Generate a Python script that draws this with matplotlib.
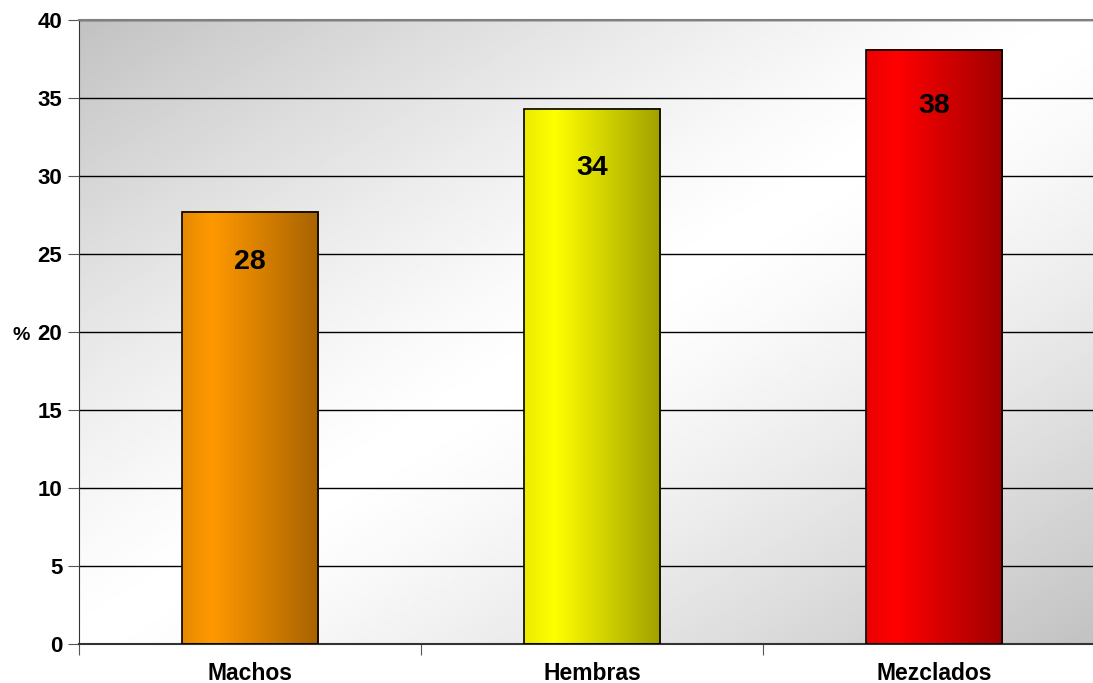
import numpy as np
import matplotlib
matplotlib.use('Agg')
import matplotlib.pyplot as plt
from matplotlib.colors import LinearSegmentedColormap

labels = ['Machos', 'Hembras', 'Mezclados']
values = [27.7, 34.3, 38.1]
value_labels = ['28', '34', '38']
colors = [('#E68A00', '#FF9900', '#A86200'),
          ('#EBEB00', '#FFFF00', '#A0A000'),
          ('#EB0000', '#FF0000', '#A00000')]

plt.rcParams['font.family'] = ['Liberation Sans', 'DejaVu Sans']

fig = plt.figure(figsize=(10.93, 6.83), dpi=100)
ax = fig.add_axes([79 / 1093, 39 / 683, 1 - 79 / 1093, 624 / 683])

# diagonal gray-white-gray background
n = 300
u, v = np.meshgrid(np.linspace(0, 1, n), np.linspace(0, 1, n))
t = (u + v) / 2  # 0 top-left, 1 bottom-right (image origin upper)
g = 0.76 + 0.24 * (1 - np.abs(2 * t - 1) ** 1.3)
ax.imshow(g, cmap='gray', vmin=0, vmax=1, extent=(0, 1, 0, 1),
          transform=ax.transAxes, aspect='auto', zorder=0, interpolation='bilinear')

ind = np.arange(len(labels))
width = 0.40
ax.set_xlim(-0.5, 2.465)
ax.set_ylim(0, 40)

ramp = np.linspace(0, 1, 200)[None, :]
for i, (val, lab) in enumerate(zip(values, value_labels)):
    c_left, c_peak, c_right = colors[i]
    cmap = LinearSegmentedColormap.from_list('b%d' % i, [(0, c_left), (0.22, c_peak), (1, c_right)])
    bar = ax.bar(ind[i], val, width, facecolor='none', edgecolor='black', linewidth=1.2, zorder=3)[0]
    x0 = bar.get_x()
    ax.imshow(ramp, cmap=cmap, extent=(x0, x0 + width, 0, val), aspect='auto',
              zorder=2, interpolation='bilinear')
    ax.text(ind[i], float(lab) - 3.5, lab, ha='center', va='center', fontsize=20.5,
            fontweight='bold', zorder=4)

ax.set_yticks(np.arange(0, 41, 5))
ax.set_yticklabels([str(y) for y in range(0, 41, 5)], fontsize=16, fontweight='bold')
ax.yaxis.grid(True, color='black', linewidth=1.0, zorder=1)
ax.set_axisbelow(True)

ax.set_xticks([-0.5, 0.5, 1.5])
ax.set_xticklabels([])
ax.set_xticks(ind, minor=True)
ax.set_xticklabels(labels, minor=True, fontsize=16.5, fontweight='bold')
ax.tick_params(axis='x', which='minor', length=0, pad=13)
ax.tick_params(axis='x', which='major', length=8, color='#555555')
ax.tick_params(axis='y', length=8, color='#555555', pad=4)

ax.set_ylabel('%', rotation=0, fontsize=14, fontweight='bold', va='center')
ax.yaxis.set_label_coords(-0.057, 0.495)

ax.spines['left'].set_color('#333333')
ax.spines['bottom'].set_color('#333333')
ax.spines['bottom'].set_linewidth(1.5)
ax.spines['top'].set_color('#808080')
ax.spines['top'].set_linewidth(1.5)
ax.spines['right'].set_visible(False)

fig.savefig('out.png', dpi=100)
